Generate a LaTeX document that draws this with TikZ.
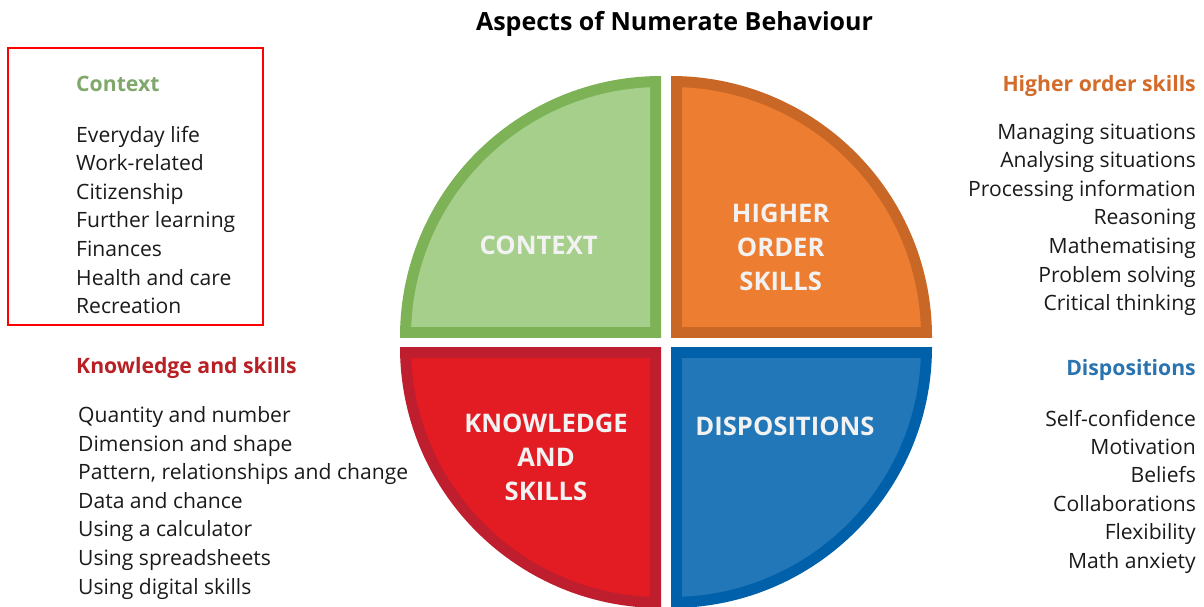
\documentclass[tikz,border=0pt]{standalone}
\usepackage{fontspec}
\setmainfont{Open Sans}
\usetikzlibrary{positioning}
\definecolor{ctxdark}{HTML}{7DB356}
\definecolor{ctxlight}{HTML}{A6CF8C}
\definecolor{hosdark}{HTML}{C96826}
\definecolor{hoslight}{HTML}{ED7D31}
\definecolor{ksdark}{HTML}{BE1E2D}
\definecolor{kslight}{HTML}{E31B23}
\definecolor{dispdark}{HTML}{0060A9}
\definecolor{displight}{HTML}{2277B8}
\definecolor{ctxhead}{HTML}{80A86C}
\definecolor{hoshead}{HTML}{D36B2A}
\definecolor{kshead}{HTML}{B82025}
\definecolor{disphead}{HTML}{2B73AE}
\definecolor{framered}{rgb}{1.0,0.0,0.0}
\definecolor{bodytext}{HTML}{1A1A1A}
\tikzset{
  title/.style={font=\bfseries\fontsize{25}{30}\selectfont, inner sep=0pt, anchor=base},
  heading/.style={font=\bfseries\fontsize{21.2}{25}\selectfont, inner sep=0pt},
  item/.style={font=\fontsize{21.1}{24}\selectfont, inner sep=0pt, text=bodytext},
  quadtext/.style={font=\bfseries\fontsize{25.6}{34}\selectfont, text=white!95!black, align=center},
}
\begin{document}
\begin{tikzpicture}[x=1pt,y=-1pt]
    \useasboundingbox (0,0) rectangle (1204,606);
    % the four quarter discs
    \foreach \cx/\cy/\sx/\sy/\dark/\light in {661/337/-1/-1/ctxdark/ctxlight, 671/337/1/-1/hosdark/hoslight, 661/347/-1/1/ksdark/kslight, 671/347/1/1/dispdark/displight}{
      \begin{scope}
        \clip (\cx,\cy) rectangle ++(\sx*270,\sy*270);
        \fill[\dark] (\cx,\cy) circle (261);
        \clip (\cx+\sx*11,\cy+\sy*11) rectangle ++(\sx*270,\sy*270);
        \fill[\light] (\cx,\cy) circle (250);
      \end{scope}
    }
    \node[quadtext] (q-ctx) at (538.7,245) {CONTEXT};
    \node[quadtext] (q-hos) at (780.7,247) {HIGHER\\ORDER\\SKILLS};
    \node[quadtext] (q-ks) at (546,457) {KNOWLEDGE\\AND\\SKILLS};
    \node[quadtext] (q-disp) at (785,426) {DISPOSITIONS};

    \node[title] (title) at (674.5,30) {Aspects of Numerate Behaviour};

    % context list in the red frame
    \draw[framered, line width=2pt] (8,48) rectangle (263,325);
    \node[heading, text=ctxhead, anchor=base west] (ctx-head) at (76,91) {Context};
    \foreach \t [count=\i] in {Everyday life, Work-related, Citizenship, Further learning, Finances, Health and care, Recreation}
      \node[item, anchor=base west] (ctx-\i) at (76,{142+28.6*(\i-1)}) {\t};

    % higher order skills
    \node[heading, text=hoshead, anchor=base east] (hos-head) at (1196,91) {Higher order skills};
    \foreach \t [count=\i] in {Managing situations, Analysing situations, Processing information, Reasoning, Mathematising, Problem solving, Critical thinking}
      \node[item, anchor=base east] (hos-\i) at (1196,{139+28.6*(\i-1)}) {\t};

    % knowledge and skills
    \node[heading, text=kshead, anchor=base west] (ks-head) at (76,373) {Knowledge and skills};
    \foreach \t [count=\i] in {Quantity and number, Dimension and shape, {Pattern, relationships and change}, Data and chance, Using a calculator, Using spreadsheets, Using digital skills}
      \node[item, anchor=base west] (ks-\i) at (78,{422.7+28.55*(\i-1)}) {\t};

    % dispositions
    \node[heading, text=disphead, anchor=base east] (disp-head) at (1196,375) {Dispositions};
    \foreach \t [count=\i] in {Self-confidence, Motivation, Beliefs, Collaborations, Flexibility, Math anxiety}
      \node[item, anchor=base east] (disp-\i) at (1196,{426+28.4*(\i-1)}) {\t};
\end{tikzpicture}
\end{document}
